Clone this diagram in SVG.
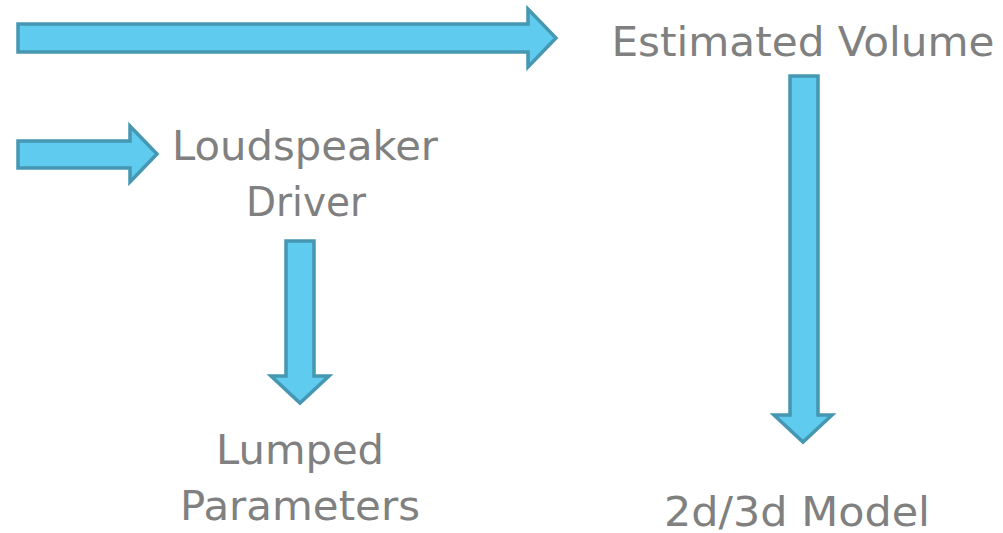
<svg xmlns="http://www.w3.org/2000/svg" width="1003" height="533" viewBox="0 0 1003 533">
<style>
.arrow{fill:#5ECBEF;stroke:#4697B2;stroke-width:3.5;stroke-linejoin:miter}
.lbl{font-family:"DejaVu Sans",Verdana,sans-serif;font-size:40px;fill:#808080;text-anchor:middle}
</style>
<rect width="1003" height="533" fill="#ffffff"/>
<g id="connectors">
<polygon class="arrow" points="18,24 528,24 528,9 556,38 528,67 528,52 18,52"/>
<polygon class="arrow" points="18,141 130,141 130,126 157,154 130,182 130,168 18,168"/>
<polygon class="arrow" points="286,241 314,241 314,376 329,376 300,403 271,376 286,376"/>
<polygon class="arrow" points="790,76 818,76 818,415 832,415 803,442 774,415 790,415"/>
</g>
<g id="estimated-volume"><text class="lbl" x="803" y="56" textLength="383" lengthAdjust="spacingAndGlyphs">Estimated Volume</text></g>
<g id="loudspeaker-driver"><text class="lbl" x="305" y="160" textLength="266" lengthAdjust="spacingAndGlyphs">Loudspeaker</text><text class="lbl" x="306" y="216" textLength="120" lengthAdjust="spacingAndGlyphs">Driver</text></g>
<g id="lumped-parameters"><text class="lbl" x="300" y="464" textLength="168" lengthAdjust="spacingAndGlyphs">Lumped</text><text class="lbl" x="300" y="520" textLength="240" lengthAdjust="spacingAndGlyphs">Parameters</text></g>
<g id="model"><text class="lbl" x="797" y="526" textLength="266" lengthAdjust="spacingAndGlyphs">2d/3d Model</text></g>
</svg>
